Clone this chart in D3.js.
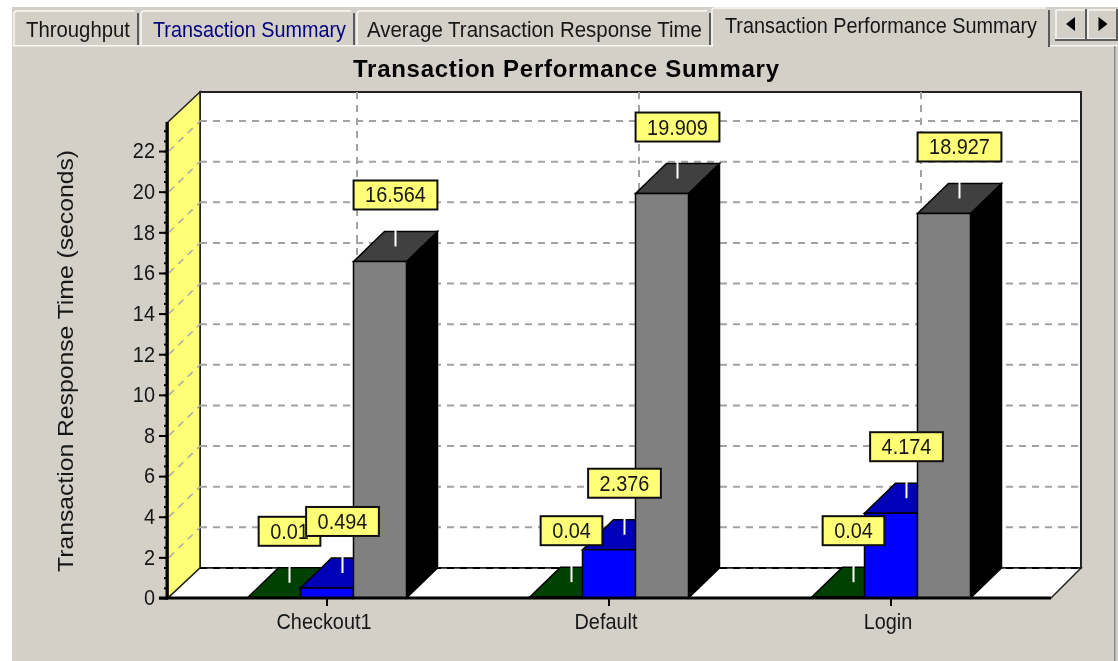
<!DOCTYPE html>
<html>
<head>
<meta charset="utf-8">
<script src="https://cdn.jsdelivr.net/npm/d3@7/dist/d3.min.js"></script>
<style>
    html, body { margin: 0; padding: 0; background: #fff; }
    svg { display: block; }
    text { font-family: "Liberation Sans", Arial, sans-serif; fill: #161616; }
    .axis path, .axis line { stroke: #000; }
    .axis text { font-family: "Liberation Sans", Arial, sans-serif; font-size: 21.5px; fill: #161616; }
    .grid { stroke: #a2a2a2; stroke-width: 2; stroke-dasharray: 7 6; fill: none; }
</style>
</head>
<body>
<svg width="1118" height="661"></svg>
<script>
// Values
var categories = ['Checkout1', 'Default', 'Login'];
var seriesNames = ['minimum', 'average', 'maximum'];
var minimumTimes = [0.01, 0.04, 0.04];
var averageTimes = [0.494, 2.376, 4.174];
var maximumTimes = [16.564, 19.909, 18.927];
var yTicks = [0, 2, 4, 6, 8, 10, 12, 14, 16, 18, 20, 22];
var yMinorTicks = d3.range(0, 23.5, 0.5);
var tabNames = ['Throughput', 'Transaction Summary', 'Average Transaction Response Time', 'Transaction Performance Summary'];
var titleText = 'Transaction Performance Summary';
var yAxisTitle = 'Transaction Response Time (seconds)';

var seriesValues = [minimumTimes, averageTimes, maximumTimes];

// Face colours per series: front, top, side
var seriesColors = [
    {front: '#004000', top: '#004000', side: '#002000'},
    {front: '#0000ff', top: '#0000b8', side: '#000080'},
    {front: '#808080', top: '#404040', side: '#000000'}
];

var svg = d3.select('svg');

// The source is a slightly blurry screenshot
svg.append('defs').append('filter').attr('id', 'soft')
    .attr('x', 0).attr('y', 0).attr('width', 1).attr('height', 1)
    .append('feGaussianBlur').attr('stdDeviation', 0.6);

var chrome = svg.append('g').attr('filter', 'url(#soft)');

// Layout of the 3D box
var plot = {left: 168, right: 1051, bottom: 598, top: 122};
var depthX = 32;
var depthY = 30;

var yScale = d3.scaleLinear().domain([0, 23.43]).range([plot.bottom, plot.top]);
var xScale = d3.scaleBand().domain(categories).range([186, 1032]);
var seriesScale = d3.scaleBand().domain(seriesNames).range([-79.5, 79.5]);

// MS Sans Serif is narrower than Liberation, so squeeze the glyphs a little
var squeezeFactor = 0.925;
function squeeze(selection) {
    selection.each(function() {
        d3.select(this)
            .attr('textLength', this.getComputedTextLength() * squeezeFactor)
            .attr('lengthAdjust', 'spacingAndGlyphs');
    });
}

// ---- window background and tabs ----
chrome.append('rect').attr('width', 1118).attr('height', 661).attr('fill', '#fff');
chrome.append('rect').attr('x', 12).attr('y', 7).attr('width', 1106).attr('height', 654).attr('fill', '#d4d0c8');
chrome.append('rect').attr('x', 12).attr('y', 45).attr('width', 1106).attr('height', 1.5).attr('fill', '#f6f6f4');
chrome.append('rect').attr('x', 1114).attr('y', 46).attr('width', 1.5).attr('height', 615).attr('fill', '#8c8c8c');

var tabLayout = [
    {x0: 14, x1: 138, top: 11, textX: 26, textLen: 104, textY: 37},
    {x0: 141, x1: 354, top: 11, textX: 153, textLen: 193, textY: 37},
    {x0: 357, x1: 710, top: 11, textX: 367, textLen: 335, textY: 37},
    {x0: 712, x1: 1049, top: 8, textX: 725, textLen: 312, textY: 33}
];

tabLayout.forEach(function(t, i) {
    var active = i === tabLayout.length - 1;
    var bottom = active ? 47 : 45;
    if (active) {
        chrome.append('rect').attr('x', t.x0 + 1).attr('y', 44).attr('width', t.x1 - t.x0 - 2).attr('height', 4).attr('fill', '#d4d0c8');
    }
    chrome.append('path').attr('d', 'M' + t.x0 + ',' + bottom + 'V' + (t.top + 3) + 'Q' + t.x0 + ',' + t.top + ' ' + (t.x0 + 3) + ',' + t.top + 'H' + (t.x1 - 3))
        .attr('fill', 'none').attr('stroke', '#f8f8f6').attr('stroke-width', 1.5);
    chrome.append('path').attr('d', 'M' + t.x1 + ',' + (t.top + 2) + 'V' + bottom)
        .attr('fill', 'none').attr('stroke', '#5a5a5a').attr('stroke-width', 2);
    chrome.append('text')
        .attr('x', t.textX).attr('y', t.textY)
        .attr('textLength', t.textLen).attr('lengthAdjust', 'spacingAndGlyphs')
        .style('font-size', '21.5px')
        .style('fill', i === 1 ? '#000080' : '#161616')
        .text(tabNames[i]);
});

// Scroll buttons at the end of the tab row
var buttons = [{x: 1055, w: 32, dir: -1}, {x: 1087, w: 31, dir: 1}];
buttons.forEach(function(b) {
    chrome.append('rect').attr('x', b.x + 1).attr('y', 10).attr('width', b.w - 2).attr('height', 29)
        .attr('fill', '#d4d0c8').attr('stroke', '#f8f8f6').attr('stroke-width', 1.5);
    chrome.append('path').attr('d', 'M' + (b.x + b.w - 1) + ',9V40H' + b.x)
        .attr('fill', 'none').attr('stroke', '#5a5a5a').attr('stroke-width', 2);
    var cx = b.x + b.w / 2;
    chrome.append('path')
        .attr('d', 'M' + (cx + b.dir * 5) + ',24L' + (cx - b.dir * 4) + ',17V31Z')
        .attr('fill', '#000');
});

chrome.append('text')
    .attr('x', 353).attr('y', 77)
    .attr('textLength', 426).attr('lengthAdjust', 'spacing')
    .style('font-size', '24px').style('font-weight', 'bold').style('fill', '#000')
    .text(titleText);

// ---- walls and floor ----
var chartG = chrome.append('g');
var backBottom = plot.bottom - depthY;
var backTop = plot.top - depthY;

function poly(points) {
    return 'M' + points.join('L') + 'Z';
}

chartG.append('path')
    .attr('d', poly([[plot.left + depthX, backTop], [plot.right + depthX - 2, backTop], [plot.right + depthX - 2, backBottom], [plot.left + depthX, backBottom]]))
    .attr('fill', '#fff').attr('stroke', '#222').attr('stroke-width', 2);

chartG.append('path')
    .attr('d', poly([[plot.left, plot.top], [plot.left + depthX, backTop], [plot.left + depthX, backBottom], [plot.left, plot.bottom]]))
    .attr('fill', '#ffff77').attr('stroke', '#222').attr('stroke-width', 1.5);

chartG.append('path')
    .attr('d', poly([[plot.left, plot.bottom], [plot.left + depthX, backBottom], [plot.right + depthX - 2, backBottom], [plot.right, plot.bottom]]))
    .attr('fill', '#fff').attr('stroke', '#222').attr('stroke-width', 1.5);

// Grid on the back wall and its run across the yellow wall
yTicks.filter(function(d) { return d > 0; }).forEach(function(d) {
    var y = yScale(d);
    chartG.append('line').attr('class', 'grid')
        .attr('x1', plot.left + depthX).attr('x2', plot.right + depthX - 4)
        .attr('y1', y - depthY).attr('y2', y - depthY);
    chartG.append('line').attr('class', 'grid')
        .attr('x1', plot.left + 1).attr('x2', plot.left + depthX)
        .attr('y1', y).attr('y2', y - depthY)
        .style('stroke-width', 1.5).style('stroke', '#aaa');
});
chartG.append('line').attr('class', 'grid')
    .attr('x1', plot.left + depthX).attr('x2', plot.right + depthX - 4)
    .attr('y1', backBottom).attr('y2', backBottom)
    .style('stroke', '#000');
categories.forEach(function(c) {
    var x = xScale(c) + xScale.bandwidth() / 2 + depthX - 2;
    chartG.append('line').attr('class', 'grid')
        .attr('x1', x).attr('x2', x)
        .attr('y1', backTop).attr('y2', backBottom - 2);
});

// ---- bars ----
var bars = [];
seriesNames.forEach(function(name, s) {
    categories.forEach(function(cat, i) {
        bars.push({category: cat, series: name, s: s, value: seriesValues[s][i]});
    });
});

function barLeft(d) {
    return xScale(d.category) + xScale.bandwidth() / 2 + seriesScale(d.series);
}

var barW = seriesScale.bandwidth();
var barG = chartG.selectAll('.bar').data(bars).enter().append('g').attr('class', 'bar');

barG.append('path')
    .attr('d', function(d) {
        var x = barLeft(d) + barW, y = yScale(d.value);
        return poly([[x, y], [x + depthX - 1, y - depthY], [x + depthX - 1, plot.bottom - depthY], [x, plot.bottom]]);
    })
    .attr('fill', function(d) { return seriesColors[d.s].side; })
    .attr('stroke', '#000').attr('stroke-width', 1.5);

barG.append('path')
    .attr('d', function(d) {
        var x = barLeft(d), y = yScale(d.value);
        return poly([[x, y], [x + depthX - 1, y - depthY], [x + barW + depthX - 1, y - depthY], [x + barW, y]]);
    })
    .attr('fill', function(d) { return seriesColors[d.s].top; })
    .attr('stroke', '#000').attr('stroke-width', 1.5);

barG.append('rect')
    .attr('x', barLeft)
    .attr('y', function(d) { return yScale(d.value); })
    .attr('width', barW)
    .attr('height', function(d) { return plot.bottom - yScale(d.value); })
    .attr('fill', function(d) { return seriesColors[d.s].front; })
    .attr('stroke', '#000').attr('stroke-width', 1.5);

// ---- axes ----
var yAxis = d3.axisLeft(yScale).tickValues(yTicks).tickSize(9).tickPadding(4).tickSizeOuter(0);
var yMinor = d3.axisLeft(yScale).tickValues(yMinorTicks).tickSize(4).tickFormat('').tickSizeOuter(0);
var xAxis = d3.axisBottom(xScale).tickSize(8).tickPadding(8).tickSizeOuter(0);

var yG = chartG.append('g').attr('class', 'axis').attr('transform', 'translate(' + plot.left + ',0)');
yG.call(yMinor);
yG.selectAll('path').remove();
var yG2 = chartG.append('g').attr('class', 'axis').attr('transform', 'translate(' + plot.left + ',0)').call(yAxis);
yG2.selectAll('path').remove();
yG.selectAll('line').attr('stroke-width', 2);
yG2.selectAll('line').attr('stroke-width', 2);
yG2.selectAll('text').call(squeeze);
chartG.append('line').attr('x1', plot.left - 1).attr('x2', plot.left - 1).attr('y1', plot.top).attr('y2', plot.bottom + 1)
    .attr('stroke', '#000').attr('stroke-width', 3);

var xG = chartG.append('g').attr('class', 'axis').attr('transform', 'translate(0,' + plot.bottom + ')').call(xAxis);
xG.selectAll('path').remove();
xG.selectAll('line').attr('stroke-width', 2);
xG.selectAll('text').attr('dx', -3).call(squeeze);
chartG.append('line').attr('x1', plot.left - 9).attr('x2', plot.right).attr('y1', plot.bottom).attr('y2', plot.bottom)
    .attr('stroke', '#000').attr('stroke-width', 3);

chartG.append('text')
    .attr('transform', 'translate(73,361) rotate(-90)')
    .attr('text-anchor', 'middle')
    .attr('textLength', 422).attr('lengthAdjust', 'spacingAndGlyphs')
    .style('font-size', '21.5px')
    .text(yAxisTitle);

// ---- value labels with their leader lines ----
var boxH = 29;
var labelOffset = 52;
function labelX(d) {
    return barLeft(d) + barW / 2 + (depthX - 1) / 2;
}

chartG.selectAll('.leader').data(bars).enter().append('line')
    .attr('class', 'leader')
    .attr('x1', labelX).attr('x2', labelX)
    .attr('y1', function(d) { return yScale(d.value) - labelOffset; })
    .attr('y2', function(d) { return yScale(d.value) - depthY / 2; })
    .attr('stroke', '#fff').attr('stroke-width', 2);

var labelG = chartG.selectAll('.label').data(bars).enter().append('g').attr('class', 'label');
var labelRect = labelG.append('rect')
    .attr('y', function(d) { return yScale(d.value) - labelOffset - boxH; })
    .attr('height', boxH)
    .attr('fill', '#ffff77').attr('stroke', '#111').attr('stroke-width', 2);
var labelText = labelG.append('text')
    .attr('x', labelX)
    .attr('y', function(d) { return yScale(d.value) - labelOffset - boxH / 2 + 7.5; })
    .attr('text-anchor', 'middle')
    .style('font-size', '21.5px')
    .text(function(d) { return d.value; });
labelText.each(function(d) { d.textW = this.getComputedTextLength() * squeezeFactor; });
labelText.call(squeeze);
labelRect
    .attr('x', function(d) { return labelX(d) - (d.textW + 23) / 2; })
    .attr('width', function(d) { return d.textW + 23; });
</script>
</body>
</html>
